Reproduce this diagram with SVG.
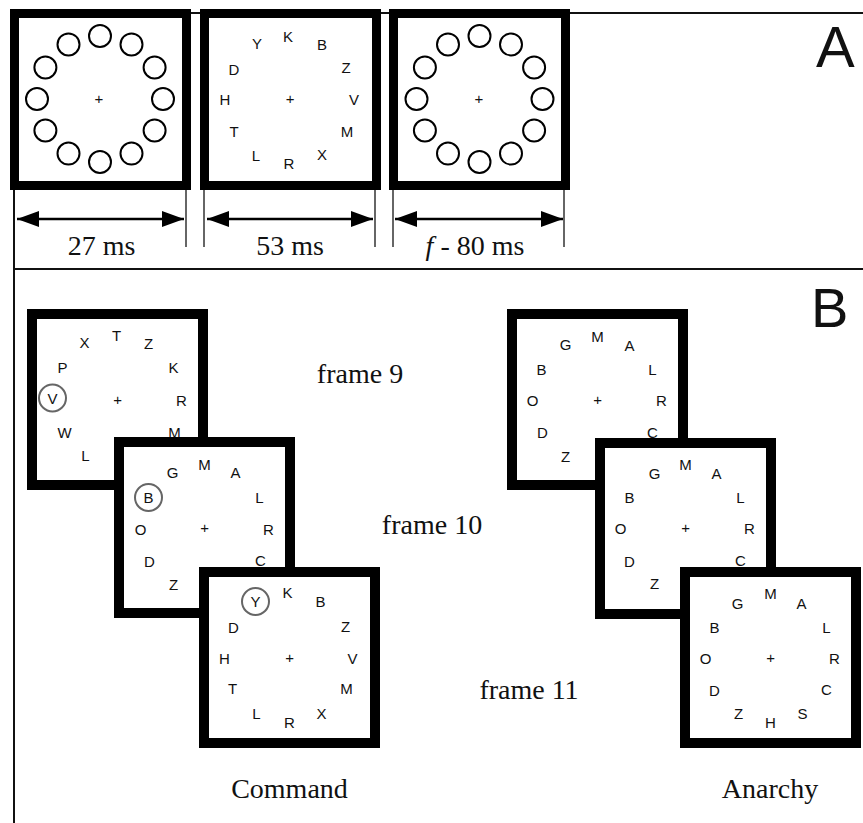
<svg xmlns="http://www.w3.org/2000/svg" width="863" height="823" viewBox="0 0 863 823">
<defs>
<style>
.frameA{fill:#fff;stroke:#000;stroke-width:9}
.frameB{fill:#fff;stroke:#000;stroke-width:10}
.ring{fill:none;stroke:#000;stroke-width:2}
.let{font-family:"Liberation Sans",Arial,sans-serif;font-size:15px;fill:#111;text-anchor:middle}
.plus{font-family:"Liberation Sans",Arial,sans-serif;font-size:15px;fill:#111;text-anchor:middle}
.mark{fill:none;stroke:#666;stroke-width:2}
.lab{font-family:"Liberation Serif","Times New Roman",serif;font-size:28px;fill:#111;text-anchor:middle}
.big{font-family:"Liberation Sans",Arial,sans-serif;font-size:58px;fill:#111}
.rule{stroke:#111;stroke-width:2;fill:none}
.tick{stroke:#333;stroke-width:1.5;fill:none}
.arrow{stroke:#000;stroke-width:2.5;fill:none;marker-start:url(#ah);marker-end:url(#ah)}
</style>
<marker id="ah" viewBox="0 0 22 16" refX="22" refY="8" markerWidth="22" markerHeight="16" markerUnits="userSpaceOnUse" orient="auto-start-reverse">
<path d="M0,0 L22,8 L0,16 Z" fill="#000"/>
</marker>
<g id="ring12">
<circle class="ring" cx="0" cy="-63" r="11"/>
<circle class="ring" cx="31.5" cy="-54.6" r="11"/>
<circle class="ring" cx="54.6" cy="-31.5" r="11"/>
<circle class="ring" cx="63" cy="0" r="11"/>
<circle class="ring" cx="54.6" cy="31.5" r="11"/>
<circle class="ring" cx="31.5" cy="54.6" r="11"/>
<circle class="ring" cx="0" cy="63" r="11"/>
<circle class="ring" cx="-31.5" cy="54.6" r="11"/>
<circle class="ring" cx="-54.6" cy="31.5" r="11"/>
<circle class="ring" cx="-63" cy="0" r="11"/>
<circle class="ring" cx="-54.6" cy="-31.5" r="11"/>
<circle class="ring" cx="-31.5" cy="-54.6" r="11"/>
</g>
</defs>
<rect x="0" y="0" width="863" height="823" fill="#fff"/>

<!-- panel rules -->
<g id="rules">
<line class="rule" x1="10" y1="13" x2="863" y2="13"/>
<line class="rule" x1="14" y1="269" x2="863" y2="269"/>
<line class="rule" x1="14" y1="190" x2="14" y2="823"/>
<line class="tick" x1="186" y1="190" x2="186" y2="247"/>
<line class="tick" x1="204" y1="190" x2="204" y2="247"/>
<line class="tick" x1="375" y1="190" x2="375" y2="247"/>
<line class="tick" x1="393" y1="190" x2="393" y2="247"/>
<line class="tick" x1="564" y1="190" x2="564" y2="247"/>
</g>

<!-- Panel A frames -->
<g id="a-mask1">
<rect class="frameA" x="14.5" y="13.5" width="172" height="172"/>
<use href="#ring12" transform="translate(100,99)"/>
<text class="plus" x="99" y="104">+</text>
</g>
<g id="a-letters">
<rect class="frameA" x="204.5" y="13.5" width="172" height="172"/>
<g transform="translate(290,99)">
<text class="plus" x="0" y="5">+</text>
<text class="let" x="-2" y="-57">K</text>
<text class="let" x="32" y="-49">B</text>
<text class="let" x="56" y="-26">Z</text>
<text class="let" x="64" y="5.5">V</text>
<text class="let" x="57" y="38">M</text>
<text class="let" x="32" y="61">X</text>
<text class="let" x="-1" y="69.5">R</text>
<text class="let" x="-34" y="62">L</text>
<text class="let" x="-56" y="38">T</text>
<text class="let" x="-65" y="6">H</text>
<text class="let" x="-56" y="-24.5">D</text>
<text class="let" x="-33" y="-50.5">Y</text>
</g>
</g>
<g id="a-mask2">
<rect class="frameA" x="393.5" y="13.5" width="172" height="172"/>
<use href="#ring12" transform="translate(479.5,99)"/>
<text class="plus" x="479" y="104">+</text>
</g>
<text class="big" x="816" y="67">A</text>

<!-- Panel A arrows -->
<g id="connectors">
<line class="arrow" x1="17" y1="219" x2="184" y2="219"/>
<line class="arrow" x1="207" y1="219" x2="373" y2="219"/>
<line class="arrow" x1="395" y1="219" x2="563" y2="219"/>
</g>
<text class="lab" x="101.5" y="255">27 ms</text>
<text class="lab" x="290" y="255">53 ms</text>
<text class="lab" x="475" y="255"><tspan font-style="italic">f</tspan> - 80 ms</text>

<!-- Panel B -->
<text class="big" x="811" y="327" style="font-size:56px">B</text>

<g id="cmd-frame9">
<rect class="frameB" x="32" y="314" width="171" height="171"/>
<g transform="translate(117.5,399.5)">
<text class="plus" x="0" y="5">+</text>
<text class="let" x="-1" y="-58.5">T</text>
<text class="let" x="31" y="-50.5">Z</text>
<text class="let" x="56" y="-26.5">K</text>
<text class="let" x="64" y="6">R</text>
<text class="let" x="57" y="38">M</text>
<text class="let" x="-32" y="61">L</text>
<text class="let" x="-53" y="38">W</text>
<text class="let" x="-65" y="4">V</text>
<circle class="mark" cx="-65" cy="-1.5" r="13.5"/>
<text class="let" x="-55" y="-26.5">P</text>
<text class="let" x="-33" y="-51.5">X</text>
</g>
</g>

<g id="cmd-frame10">
<rect class="frameB" x="119" y="442" width="171" height="171"/>
<g transform="translate(204.5,527.5)">
<text class="plus" x="0" y="5">+</text>
<text class="let" x="0" y="-57.5">M</text>
<text class="let" x="31" y="-49.5">A</text>
<text class="let" x="55" y="-24.5">L</text>
<text class="let" x="64" y="7">R</text>
<text class="let" x="56" y="38">C</text>
<text class="let" x="-31" y="62">Z</text>
<text class="let" x="-55" y="39">D</text>
<text class="let" x="-64" y="7">O</text>
<text class="let" x="-56" y="-24.5">B</text>
<circle class="mark" cx="-56" cy="-30" r="13.5"/>
<text class="let" x="-32" y="-49.5">G</text>
</g>
</g>

<g id="cmd-frame11">
<rect class="frameB" x="204" y="572" width="171" height="171"/>
<g transform="translate(289.5,657.5)">
<text class="plus" x="0" y="5">+</text>
<text class="let" x="-2" y="-59.5">K</text>
<text class="let" x="31" y="-50.5">B</text>
<text class="let" x="56" y="-26">Z</text>
<text class="let" x="63" y="6">V</text>
<text class="let" x="57" y="36">M</text>
<text class="let" x="32" y="61">X</text>
<text class="let" x="0" y="70">R</text>
<text class="let" x="-33" y="61">L</text>
<text class="let" x="-57" y="36">T</text>
<text class="let" x="-65" y="6">H</text>
<text class="let" x="-56" y="-25">D</text>
<text class="let" x="-34" y="-50.5">Y</text>
<circle class="mark" cx="-34" cy="-56" r="13.5"/>
</g>
</g>

<g id="an-frame9">
<rect class="frameB" x="512" y="314" width="171" height="171"/>
<g transform="translate(597.5,399.5)">
<text class="plus" x="0" y="5">+</text>
<text class="let" x="0" y="-58">M</text>
<text class="let" x="32" y="-49">A</text>
<text class="let" x="55" y="-25">L</text>
<text class="let" x="64" y="6">R</text>
<text class="let" x="55" y="38">C</text>
<text class="let" x="-32" y="62">Z</text>
<text class="let" x="-55" y="38">D</text>
<text class="let" x="-65" y="6">O</text>
<text class="let" x="-56" y="-25">B</text>
<text class="let" x="-32" y="-50">G</text>
</g>
</g>

<g id="an-frame10">
<rect class="frameB" x="600" y="443" width="171" height="171"/>
<g transform="translate(685.5,528)">
<text class="plus" x="0" y="5">+</text>
<text class="let" x="0" y="-58">M</text>
<text class="let" x="31" y="-49.5">A</text>
<text class="let" x="55" y="-25">L</text>
<text class="let" x="64" y="5.5">R</text>
<text class="let" x="55" y="37.5">C</text>
<text class="let" x="-31" y="61">Z</text>
<text class="let" x="-56" y="38.5">D</text>
<text class="let" x="-65" y="5.5">O</text>
<text class="let" x="-56" y="-25.5">B</text>
<text class="let" x="-31" y="-49.5">G</text>
</g>
</g>

<g id="an-frame11">
<rect class="frameB" x="685" y="572" width="171" height="171"/>
<g transform="translate(770.5,657.5)">
<text class="plus" x="0" y="5">+</text>
<text class="let" x="0" y="-59">M</text>
<text class="let" x="31" y="-49">A</text>
<text class="let" x="56" y="-25">L</text>
<text class="let" x="64" y="6">R</text>
<text class="let" x="56" y="37">C</text>
<text class="let" x="32" y="61">S</text>
<text class="let" x="0" y="70">H</text>
<text class="let" x="-32" y="61">Z</text>
<text class="let" x="-56" y="38">D</text>
<text class="let" x="-65" y="6">O</text>
<text class="let" x="-56" y="-25">B</text>
<text class="let" x="-33" y="-49">G</text>
</g>
</g>

<text class="lab" x="360" y="383">frame 9</text>
<text class="lab" x="432" y="534">frame 10</text>
<text class="lab" x="529" y="699">frame 11</text>
<text class="lab" x="289.5" y="798">Command</text>
<text class="lab" x="770" y="798">Anarchy</text>
</svg>
